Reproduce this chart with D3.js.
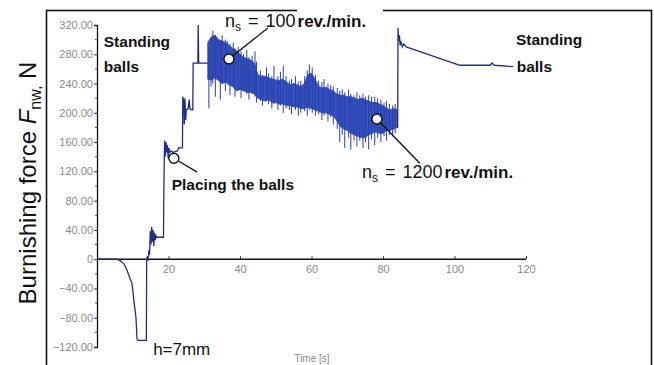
<!DOCTYPE html>
<html>
<head>
<meta charset="utf-8">
<script src="https://cdn.jsdelivr.net/npm/d3@7"></script>
<style>
    body { margin: 0; background: #fff; }
    text { font-family: "Liberation Sans", Arial, sans-serif; }
</style>
</head>
<body>
<div id="force_chart"></div>
<script>
var vWidth = 654;
var vHeight = 365;

// Axis ticks
var yTicks = [-120, -80, -40, 0, 40, 80, 120, 160, 200, 240, 280, 320];
var xTicks = [20, 40, 60, 80, 100, 120];

// Force before the spindle starts: lowering the tool, placing the balls (time s, force N)
var preTime = [0, 5.5, 6.5, 7.5, 8.4, 9.2, 9.8, 10.3, 10.9, 11.2, 11.5, 13.8, 13.9, 14.1, 14.3, 14.5, 14.7,
    14.9, 15.1, 15.3, 15.5, 15.7, 15.9, 16.1, 16.3, 16.5, 16.8, 18.6, 18.7, 18.9, 19.1, 19.3, 19.5, 19.7,
    19.9, 20.1, 20.4, 20.8, 21.2, 22.5, 22.8, 23.9, 24.0, 24.3, 24.4, 24.6, 24.8, 25.0, 25.5, 25.8, 26.0,
    26.8, 26.9, 28.2, 28.3, 28.45, 31.0];
var preForce = [0, 0, -2, -6, -15, -26, -33, -56, -80, -109, -111, -111, 0, 4, -2, 12, 6,
    38, 20, 44, 24, 40, 18, 36, 26, 32, 30, 30, 95, 162, 140, 160, 146, 156,
    138, 152, 146, 148, 146, 148, 152, 152, 222, 214, 184, 220, 190, 204, 206, 218, 205,
    204, 268, 268, 320, 268, 268];

// Noisy band while rotating, read once per second: upper and lower envelope
var bandTime = [31, 32, 33, 34, 35, 36, 37, 38, 39, 40, 41, 42, 43, 44, 45, 46, 47, 48, 49, 50,
    51, 52, 53, 54, 55, 56, 57, 58, 59, 60, 61, 62, 63, 64, 65, 66, 67, 68, 69, 70,
    71, 72, 73, 74, 75, 76, 77, 78, 79, 80, 81, 82, 83, 84];
var bandHigh = [296, 304, 306, 300, 298, 296, 292, 288, 285, 280, 276, 274, 272, 268, 252, 250, 250, 248, 246, 245,
    244, 246, 242, 238, 240, 238, 236, 240, 252, 254, 246, 236, 234, 235, 232, 230, 226, 224, 224, 222,
    222, 220, 218, 220, 218, 216, 214, 214, 212, 210, 206, 204, 206, 204];
var bandLow = [246, 245, 248, 244, 240, 242, 238, 236, 230, 232, 230, 228, 228, 226, 220, 218, 216, 218, 214, 214,
    212, 212, 210, 210, 208, 208, 206, 206, 208, 206, 204, 202, 200, 200, 198, 196, 190, 182, 178, 176,
    172, 170, 168, 166, 166, 170, 172, 174, 172, 172, 176, 176, 178, 180];

// Single spikes of the noise (time, low end, high end)
var spikeTime = [31.3, 31.9, 32.4, 33.1, 33.7, 34.5, 35.0, 35.9, 36.4, 37.2, 38.1, 38.6, 39.5, 40.3, 41.0,
    41.9, 42.5, 43.4, 44.2, 44.6, 45.7, 46.3, 47.4, 48.0, 48.9, 49.5, 50.6, 51.3, 52.1, 52.9,
    53.8, 54.4, 55.5, 56.3, 57.0, 58.1, 58.8, 59.4, 60.2, 61.1, 62.0, 62.9, 63.5, 64.6, 65.4,
    66.1, 67.2, 67.9, 68.6, 69.3, 70.4, 71.0, 71.9, 72.7, 73.5, 74.4, 75.1, 76.0, 76.8, 77.7,
    78.5, 79.4, 80.3, 81.0, 81.8, 82.7, 83.4];
var spikeLow = [206, 236, 240, 222, 246, 218, 240, 230, 244, 224, 236, 222, 232, 220, 230,
    226, 218, 226, 222, 214, 216, 210, 216, 212, 206, 212, 204, 210, 200, 206,
    204, 198, 204, 196, 200, 202, 196, 204, 200, 196, 198, 190, 196, 188, 194,
    184, 178, 160, 170, 152, 166, 150, 162, 154, 162, 152, 160, 150, 164, 156,
    166, 160, 168, 162, 170, 168, 172];
var spikeHigh = [290, 302, 312, 306, 300, 298, 306, 300, 298, 294, 296, 288, 290, 284, 280,
    286, 276, 278, 284, 270, 258, 252, 262, 254, 250, 264, 250, 256, 264, 250,
    244, 246, 250, 242, 244, 250, 258, 266, 262, 252, 244, 242, 246, 240, 238,
    236, 234, 230, 232, 228, 232, 226, 224, 228, 224, 226, 222, 224, 222, 222,
    220, 218, 214, 216, 212, 210, 212];

// After the spindle stops
var postTime = [84.1, 84.2, 84.4, 84.6, 84.8, 85.0, 85.4, 85.8, 86.5, 101.5, 110, 110.5, 111.2, 116.4];
var postForce = [180, 316, 298, 306, 292, 298, 290, 294, 290, 265, 265, 268, 265, 263];

// Marked points on the curve
var markerTime = [36.9, 78.3, 21.5];
var markerForce = [273.5, 191.5, 138];

// Prepare our physical space
var svg = d3.select("#force_chart")
    .append("svg")
    .attr("width", vWidth)
    .attr("height", vHeight);

var x = d3.scaleLinear().domain([0, 120]).range([97, 526]);
var y = d3.scaleLinear().domain([-120, 320]).range([347, 25]);

var lineColor = "#1f2e8c";
var bandColor = "#3451bf";

// frame around the plot
svg.append("rect")
    .attr("x", 46.5).attr("y", 10.5)
    .attr("width", 605).attr("height", 370)
    .attr("fill", "none")
    .attr("stroke", "#111")
    .attr("stroke-width", 1.6);

// y axis
var yAxis = d3.axisLeft(y)
    .tickValues(yTicks)
    .tickSize(3)
    .tickFormat(function (d) { return d === 0 ? "0" : d3.format(".2f")(d); });

var gy = svg.append("g")
    .attr("transform", "translate(" + x(0) + ",0)")
    .call(yAxis);
gy.select(".domain").attr("stroke", "#111").attr("stroke-width", 1.3);
gy.selectAll(".tick line").attr("stroke", "#333");
gy.selectAll(".tick text")
    .attr("font-size", 11)
    .attr("fill", "#8a8a8a")
    .attr("font-family", "Liberation Sans, Arial, sans-serif")
    .attr("x", -4);

// minor y ticks
svg.append("g").selectAll("line")
    .data(yTicks.slice(0, -1))
    .enter().append("line")
    .attr("x1", x(0) - 2).attr("x2", x(0))
    .attr("y1", d => y(d + 20)).attr("y2", d => y(d + 20))
    .attr("stroke", "#555");

// x axis on the zero line
var xAxis = d3.axisTop(x)
    .tickValues(xTicks)
    .tickSize(3)
    .tickFormat(d3.format("d"));

var gx = svg.append("g")
    .attr("transform", "translate(0," + y(0) + ")")
    .call(xAxis);
gx.select(".domain").attr("stroke", "#111").attr("stroke-width", 1.5).attr("d", "M" + x(0) + ",0H" + x(120));
gx.selectAll(".tick line").attr("stroke", "#333");
gx.selectAll(".tick text")
    .attr("font-size", 11)
    .attr("fill", "#8a8a8a")
    .attr("font-family", "Liberation Sans, Arial, sans-serif")
    .attr("y", 14)
    .attr("dy", 0);

svg.append("text")
    .attr("x", 312).attr("y", 362)
    .attr("text-anchor", "middle")
    .attr("font-size", 10)
    .attr("fill", "#8a8a8a")
    .text("Time [s]");

// y axis title
var yTitle = svg.append("text")
    .attr("transform", "translate(36,183) rotate(-90)")
    .attr("text-anchor", "middle")
    .attr("font-size", 24)
    .attr("fill", "#111");
yTitle.append("tspan").text("Burnishing force ");
yTitle.append("tspan").attr("font-style", "italic").text("F");
yTitle.append("tspan").attr("font-size", 16).attr("dy", 5).text("nw,");
yTitle.append("tspan").attr("dy", -5).text(" N");

// ---- signal ----
var band = d3.area()
    .x((d, i) => x(bandTime[i]))
    .y0((d, i) => y(bandLow[i]))
    .y1((d, i) => y(bandHigh[i]));

svg.append("path")
    .datum(bandTime)
    .attr("d", band)
    .attr("fill", bandColor)
    .attr("stroke", bandColor)
    .attr("stroke-width", 1);

svg.append("g").selectAll("line")
    .data(spikeTime)
    .enter().append("line")
    .attr("x1", d => x(d)).attr("x2", d => x(d))
    .attr("y1", (d, i) => y(spikeLow[i]))
    .attr("y2", (d, i) => y(spikeHigh[i]))
    .attr("stroke", "#2a3ea8")
    .attr("stroke-width", 1);

var line = d3.line().x(d => x(d[0])).y(d => y(d[1]));

// before, and joined onto the start of the band
svg.append("path")
    .datum(preTime.map((t, i) => [t, preForce[i]]))
    .attr("d", line)
    .attr("fill", "none")
    .attr("stroke", lineColor)
    .attr("stroke-width", 1.3);

// after, joined from the end of the band
svg.append("path")
    .datum([[bandTime[bandTime.length - 1], bandLow[bandLow.length - 1]]]
        .concat(postTime.map((t, i) => [t, postForce[i]])))
    .attr("d", line)
    .attr("fill", "none")
    .attr("stroke", lineColor)
    .attr("stroke-width", 1.3);

// ---- annotations ----
// leader line ends, in data units
var leaderTime = [47.8, 90.3, 28.0];
var leaderForce = [316, 131, 119];

svg.append("g").selectAll("line")
    .data(markerTime)
    .enter().append("line")
    .attr("x1", d => x(d))
    .attr("y1", (d, i) => y(markerForce[i]))
    .attr("x2", (d, i) => x(leaderTime[i]))
    .attr("y2", (d, i) => y(leaderForce[i]))
    .attr("stroke", "#111")
    .attr("stroke-width", 1.3);

svg.append("g").selectAll("circle")
    .data(markerTime)
    .enter().append("circle")
    .attr("cx", d => x(d))
    .attr("cy", (d, i) => y(markerForce[i]))
    .attr("r", 5)
    .attr("fill", "#fff")
    .attr("stroke", "#111")
    .attr("stroke-width", 1.4);

function boldLabel(t, f, txt, size) {
    svg.append("text")
        .attr("x", x(t)).attr("y", y(f))
        .attr("font-size", size)
        .attr("font-weight", "bold")
        .attr("fill", "#111")
        .text(txt);
}

boldLabel(1.9, 290, "Standing", 15.5);
boldLabel(1.9, 256, "balls", 15.5);
boldLabel(117.2, 292.5, "Standing", 15.5);
boldLabel(117.4, 256, "balls", 15.5);
boldLabel(20.9, 94.5, "Placing the balls", 15.5);

function speedLabel(t, f, value) {
    var lbl = svg.append("text")
        .attr("x", x(t)).attr("y", y(f))
        .attr("font-size", 18)
        .attr("fill", "#111")
        .attr("word-spacing", 2);
    lbl.append("tspan").text("n");
    lbl.append("tspan").attr("font-size", 12).attr("dy", 4).text("s");
    lbl.append("tspan").attr("dy", -4).text(" = " + value);
    lbl.append("tspan").attr("font-weight", "bold").attr("font-size", 17).attr("dx", 2).text("rev./min.");
}

// white patch under the upper speed label (it sits over the frame)
svg.append("rect")
    .attr("x", 297).attr("y", 9)
    .attr("width", 86).attr("height", 20)
    .attr("fill", "#fff");

speedLabel(35.8, 317, "100");
speedLabel(74.1, 111, "1200");

svg.append("text")
    .attr("x", x(15.7)).attr("y", y(-131))
    .attr("font-size", 17)
    .attr("fill", "#111")
    .text("h=7mm");
</script>
</body>
</html>
